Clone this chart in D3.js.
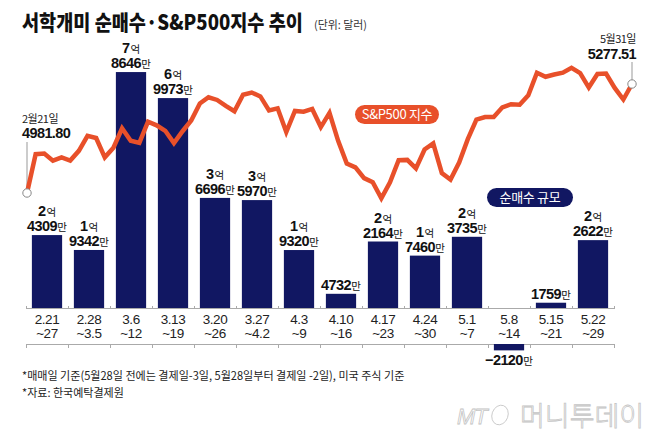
<!DOCTYPE html>
<html>
<head>
<meta charset="utf-8">
<script src="https://cdn.jsdelivr.net/npm/d3@7/dist/d3.min.js"></script>
<style>
  html, body { margin: 0; padding: 0; background: #fff; }
  svg { display: block; }
</style>
</head>
<body>
<script>
// ---------- DATA ----------
const weekStart = ["2.21","2.28","3.6","3.13","3.20","3.27","4.3","4.10","4.17","4.24","5.1","5.8","5.15","5.22"];
const weekEnd   = ["~27","~3.5","~12","~19","~26","~4.2","~9","~16","~23","~30","~7","~14","~21","~29"];
// net purchases, unit: 만 달러
const netBuy = [24309, 19342, 78646, 69973, 36696, 35970, 19320, 4732, 22164, 17460, 23735, -2120, 1759, 22622];

// S&P500 daily closes, 2/21 ~ 5/31
const spxDates = ["2.21","2.22","2.23","2.26","2.27","2.28","2.29",
  "3.1","3.4","3.5","3.6","3.7","3.8","3.11","3.12","3.13","3.14","3.15","3.18","3.19","3.20","3.21","3.22","3.25","3.26","3.27","3.28",
  "4.1","4.2","4.3","4.4","4.5","4.8","4.9","4.10","4.11","4.12","4.15","4.16","4.17","4.18","4.19","4.22","4.23","4.24","4.25","4.26","4.29","4.30",
  "5.1","5.2","5.3","5.6","5.7","5.8","5.9","5.10","5.13","5.14","5.15","5.16","5.17","5.20","5.21","5.22","5.23","5.24","5.28","5.29","5.30","5.31"];
const spxValues = [4981.80,5087.03,5088.80,5069.53,5078.18,5069.76,5096.27,
  5137.08,5130.95,5078.65,5104.76,5157.36,5123.69,5117.94,5175.27,5165.31,5150.48,5117.09,5149.42,5178.51,5224.62,5241.53,5234.18,5218.19,5203.58,5248.49,5254.35,
  5243.77,5205.81,5211.49,5147.21,5204.34,5202.39,5209.91,5160.64,5199.06,5123.41,5061.82,5051.41,5022.21,5011.12,4967.23,5010.60,5070.55,5071.63,5048.42,5099.96,5116.17,5035.69,
  5018.39,5064.20,5127.79,5180.74,5187.70,5187.67,5214.08,5222.68,5221.42,5246.68,5308.15,5297.10,5303.27,5308.13,5321.41,5307.01,5267.84,5304.72,5306.04,5266.95,5235.48,5277.51];

// ---------- STYLE ----------
const W = 658, H = 440;
const NAVY = "#111762";
const ORANGE = "#e8502a";
const KR = "'Noto Sans CJK KR', 'Noto Sans', sans-serif";
const NUM = "'Liberation Sans', Arial, sans-serif";

const svg = d3.select("body").append("svg").attr("width", W).attr("height", H);

// fit a text element horizontally to a target width via a scale transform
function fitText(sel, x0, y0, width) {
  const w = sel.node().getComputedTextLength();
  const k = Math.min(1, width / w);
  sel.attr("x", 0).attr("y", 0).attr("transform", `translate(${x0},${y0}) scale(${k},1)`);
  return sel;
}

// title
fitText(svg.append("text")
  .attr("font-family", KR).attr("font-weight", 900).attr("font-size", 21)
  .attr("fill", "#111").text("서학개미 순매수·S&P500지수 추이"), 22, 30, 281);
fitText(svg.append("text")
  .attr("font-family", KR).attr("font-size", 11).attr("fill", "#333")
  .text("(단위: 달러)"), 314, 29, 53);

// ---------- BARS ----------
const base = 308, negBase = 344;
const x = d3.scaleBand().domain(d3.range(netBuy.length)).range([26, 614]).paddingInner(0.28).paddingOuter(0.14);
const yBar = d3.scaleLinear().domain([0, 80000]).range([base, base - 240]);

// axis lines
const axisG = svg.append("g").attr("stroke", "#aaa").attr("stroke-width", 1);
axisG.append("line").attr("x1", 26).attr("x2", 614).attr("y1", base + 0.5).attr("y2", base + 0.5);
axisG.append("line").attr("x1", 26).attr("x2", 614).attr("y1", negBase + 0.5).attr("y2", negBase + 0.5);
const bounds = d3.range(netBuy.length + 1).map(i => 26 + i * 588 / netBuy.length);
axisG.selectAll(".tt").data(bounds).join("line")
  .attr("x1", d => Math.round(d) + 0.5).attr("x2", d => Math.round(d) + 0.5)
  .attr("y1", base - 2).attr("y2", base + 1);
axisG.selectAll(".tb").data(bounds).join("line")
  .attr("x1", d => Math.round(d) + 0.5).attr("x2", d => Math.round(d) + 0.5)
  .attr("y1", negBase).attr("y2", negBase + 4);

svg.append("g").selectAll("rect").data(netBuy).join("rect")
  .attr("x", (d, i) => x(i)).attr("width", x.bandwidth())
  .attr("y", d => d >= 0 ? yBar(d) : negBase)
  .attr("height", d => Math.abs(yBar(d) - yBar(0)))
  .attr("fill", NAVY);

// category labels
const catG = svg.append("g").attr("font-family", NUM).attr("font-size", 13.5).attr("fill", "#222").attr("text-anchor", "middle");
catG.selectAll(".c1").data(weekStart).join("text")
  .attr("x", (d, i) => x(i) + x.bandwidth() / 2).attr("y", 324).attr("letter-spacing", -0.4).text(d => d);
catG.selectAll(".c2").data(weekEnd).join("text")
  .attr("x", (d, i) => x(i) + x.bandwidth() / 2).attr("y", 338).attr("letter-spacing", -0.4).text(d => d);

// value labels
function addValueLabel(d, i) {
  const cx = x(i) + x.bandwidth() / 2;
  const a = Math.abs(d);
  const eok = Math.floor(a / 10000), man = a % 10000;
  const sign = d < 0 ? "−" : "";
  let yLast = d >= 0 ? yBar(d) - 4 : negBase + Math.abs(yBar(d) - yBar(0)) + 15;
  const g = svg.append("g").attr("text-anchor", "middle").attr("fill", "#111");
  const t2 = g.append("text").attr("x", cx).attr("y", yLast);
  t2.append("tspan").attr("font-family", NUM).attr("font-weight", 700).attr("font-size", 14.5).attr("letter-spacing", -0.6)
    .text(sign + man);
  t2.append("tspan").attr("font-family", KR).attr("font-size", 10.5).attr("dx", 0.5).text("만");
  if (eok > 0) {
    const t1 = g.append("text").attr("x", cx).attr("y", yLast - 15);
    t1.append("tspan").attr("font-family", NUM).attr("font-weight", 700).attr("font-size", 14.5).text(eok);
    t1.append("tspan").attr("font-family", KR).attr("font-size", 10.5).attr("dx", 0.5).text("억");
  }
}
netBuy.forEach(addValueLabel);

// ---------- S&P500 LINE ----------
const xl = d3.scaleLinear().domain([0, spxValues.length - 1]).range([27, 632]);
const yl = d3.scaleLinear().domain([4981.80, 5277.51]).range([193, 84]);
const line = d3.line().x((d, i) => xl(i)).y(d => yl(d));

// leader lines
const first = spxValues[0], last = spxValues[spxValues.length - 1];
svg.append("line").attr("x1", xl(0)).attr("x2", xl(0)).attr("y1", 142).attr("y2", yl(first) - 4)
  .attr("stroke", "#999").attr("stroke-width", 1);
svg.append("line").attr("x1", xl(spxValues.length - 1)).attr("x2", xl(spxValues.length - 1)).attr("y1", 62).attr("y2", yl(last) - 4)
  .attr("stroke", "#999").attr("stroke-width", 1);

svg.append("path").datum(spxValues).attr("d", line)
  .attr("fill", "none").attr("stroke", ORANGE).attr("stroke-width", 4.5).attr("stroke-linejoin", "miter").attr("stroke-miterlimit", 3);

svg.append("circle").attr("cx", xl(0)).attr("cy", yl(first)).attr("r", 4.2)
  .attr("fill", "#fff").attr("stroke", "#888").attr("stroke-width", 1);
svg.append("circle").attr("cx", xl(spxValues.length - 1)).attr("cy", yl(last)).attr("r", 4.2)
  .attr("fill", "#fff").attr("stroke", "#888").attr("stroke-width", 1);

// endpoint labels
svg.append("text").attr("x", 22).attr("y", 123).attr("font-family", KR).attr("font-size", 11).attr("fill", "#222")
  .attr("letter-spacing", -0.5).text("2월21일");
svg.append("text").attr("x", 22).attr("y", 138).attr("font-family", NUM).attr("font-weight", 700).attr("font-size", 14.5)
  .attr("letter-spacing", -0.6).attr("fill", "#111").text(first.toFixed(2));
svg.append("text").attr("x", 636).attr("y", 43).attr("text-anchor", "end").attr("font-family", KR).attr("font-size", 11).attr("fill", "#222")
  .attr("letter-spacing", -0.5).text("5월31일");
svg.append("text").attr("x", 636).attr("y", 59).attr("text-anchor", "end").attr("font-family", NUM).attr("font-weight", 700).attr("font-size", 14.5)
  .attr("letter-spacing", -0.6).attr("fill", "#111").text(last.toFixed(2));

// pills
function pill(cx, cy, w, h, fill, label) {
  svg.append("rect").attr("x", cx - w / 2).attr("y", cy - h / 2).attr("width", w).attr("height", h)
    .attr("rx", h / 2).attr("fill", fill);
  svg.append("text").attr("x", cx).attr("y", cy + 4.5).attr("text-anchor", "middle")
    .attr("font-family", KR).attr("font-size", 13).attr("fill", "#fff").attr("letter-spacing", -0.3).text(label);
}
pill(397, 114.5, 84, 19, ORANGE, "S&P500 지수");
pill(530, 197.5, 86, 19, NAVY, "순매수 규모");

// footnotes
fitText(svg.append("text").attr("font-family", KR).attr("font-size", 11.5).attr("fill", "#222")
  .text("*매매일 기준(5월28일 전에는 결제일-3일, 5월28일부터 결제일 -2일), 미국 주식 기준"), 22, 380, 383);
fitText(svg.append("text").attr("font-family", KR).attr("font-size", 11.5).attr("fill", "#222")
  .text("*자료: 한국예탁결제원"), 22, 397, 102);

// watermark
const wm = svg.append("g").attr("fill", "#fff").attr("stroke", "#c4c4c4").attr("stroke-width", 0.8);
wm.append("text").attr("x", 457).attr("y", 424).attr("font-family", NUM).attr("font-style", "italic").attr("font-size", 22)
  .attr("letter-spacing", -1).text("MT");
wm.append("ellipse").attr("cx", 500).attr("cy", 415).attr("rx", 8).attr("ry", 10).attr("transform", "rotate(20,500,415)");
fitText(wm.append("text").attr("font-family", KR).attr("font-size", 27).attr("font-weight", 300)
  .text("머니투데이"), 520, 426, 125);
</script>
</body>
</html>
